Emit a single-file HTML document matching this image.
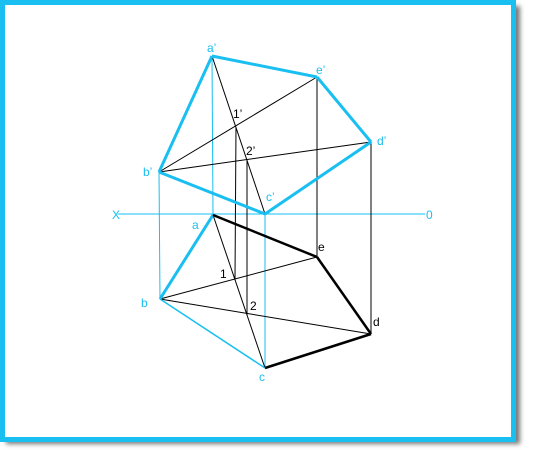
<!DOCTYPE html>
<html><head><meta charset="utf-8"><style>
html,body{margin:0;padding:0;background:#fff;width:540px;height:450px;overflow:hidden}
svg{display:block}
text{font-family:"Liberation Sans",sans-serif;font-size:12px}
</style></head><body>
<svg width="540" height="450">
<defs><filter id="sh" x="-5%" y="-5%" width="115%" height="115%"><feGaussianBlur stdDeviation="2.5"/></filter></defs>
<rect x="6" y="6" width="514" height="438" fill="#777" filter="url(#sh)"/>
<rect x="2.5" y="2.5" width="511" height="437" fill="#fff" stroke="#19bff0" stroke-width="5"/>
<g id="lines"></g>
<g fill="#19bff0">
<text x="112" y="219">X</text>
<text x="426" y="219">0</text>
<text x="207" y="52">a’</text>
<text x="316" y="74">e’</text>
<text x="377" y="145">d’</text>
<text x="143" y="176">b’</text>
<text x="266" y="201">c’</text>
<text x="192" y="229">a</text>
<text x="141" y="307">b</text>
<text x="259" y="381">c</text>
</g>
<g fill="#000">
<text x="233" y="118">1’</text>
<text x="246" y="155">2’</text>
<text x="220" y="278">1</text>
<text x="250" y="310">2</text>
<text x="318" y="251">e</text>
<text x="373" y="326">d</text>
</g>
</svg>
<script>
const P={ap:[212,56],ep:[317,77],dp:[371,142],bp:[159,172],cp:[265,214],
a:[213,215],e:[317,257],d:[371,334],b:[160,299],c:[265,368],
p1:[236,127],p2:[247,159],q1:[235,279],q2:[247,315]};
const B='#19bff0',K='#000';
const segs=[
[[118,214],[425,214],B,1],
['bp','b',B,1],['ap','a',B,1],['cp','c',B,1],
['p1','q1',K,1],['p2','q2',K,1],['ep','e',K,1],['dp','d',K,1],
['ap','cp',K,1],['bp','ep',K,1],['bp','dp',K,1],
['a','c',K,1],['b','e',K,1],['b','d',K,1],
['ap','ep',B,3],['ep','dp',B,3],['dp','cp',B,3],['cp','bp',B,3],['bp','ap',B,3],
['a','b',B,3],['b','c',B,1.5],
['a','e',K,2.5],['e','d',K,2.5],['d','c',K,2.5]];
const g=document.getElementById('lines');
segs.forEach(s=>{
const p=typeof s[0]==='string'?P[s[0]]:s[0],q=typeof s[1]==='string'?P[s[1]]:s[1];
const l=document.createElementNS('http://www.w3.org/2000/svg','line');
l.setAttribute('x1',p[0]);l.setAttribute('y1',p[1]);l.setAttribute('x2',q[0]);l.setAttribute('y2',q[1]);
l.setAttribute('stroke',s[2]);l.setAttribute('stroke-width',s[3]);


g.appendChild(l);});
</script>
</body></html>
